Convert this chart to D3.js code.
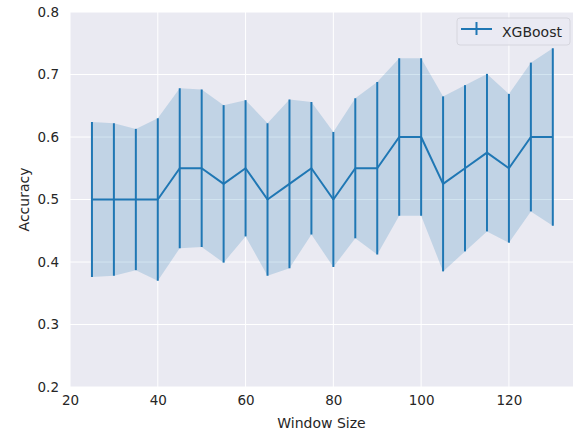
<!DOCTYPE html>
<html>
<head>
<meta charset="utf-8">
<script src="https://cdn.jsdelivr.net/npm/d3@7"></script>
<style>
  body { margin: 0; background: #fff; }
  text { font-family: "DejaVu Sans", sans-serif; fill: #262626; }
</style>
</head>
<body>
<div id="chart"></div>
<script>
// data
const windowSizes = [25, 30, 35, 40, 45, 50, 55, 60, 65, 70, 75, 80, 85, 90, 95, 100, 105, 110, 115, 120, 125, 130];
const accuracy = [0.5, 0.5, 0.5, 0.5, 0.55, 0.55, 0.525, 0.55, 0.5, 0.525, 0.55, 0.5, 0.55, 0.55, 0.6, 0.6, 0.525, 0.55, 0.575, 0.55, 0.6, 0.6];
const accuracyStd = [0.124, 0.122, 0.113, 0.130, 0.128, 0.126, 0.126, 0.109, 0.122, 0.135, 0.106, 0.108, 0.112, 0.138, 0.126, 0.126, 0.140, 0.133, 0.126, 0.119, 0.119, 0.142];
const xTicks = [20, 40, 60, 80, 100, 120];
const yTicks = [0.2, 0.3, 0.4, 0.5, 0.6, 0.7, 0.8];
const seriesName = "XGBoost";

const W = 573, H = 432;
var margin = { top: 12, right: 0, bottom: 45, left: 70 },
    width = W - margin.left - margin.right,
    height = H - margin.top - margin.bottom;

const blue = "#1f77b4";

var svg = d3.select("#chart").append("svg")
    .attr("width", W)
    .attr("height", H);

var g = svg.append("g")
    .attr("transform", "translate(" + margin.left + "," + margin.top + ")");

var data = windowSizes.map((w, i) => ({ w: w, m: accuracy[i], s: accuracyStd[i] }));

var x = d3.scaleLinear().domain([20, 134.6]).range([0, width]);
var y = d3.scaleLinear().domain([0.2, 0.8]).range([height, 0]);

// background
g.append("rect")
    .attr("width", width)
    .attr("height", height)
    .attr("fill", "#eaeaf2");

// grid
g.selectAll(".xgrid").data(xTicks).enter().append("line")
    .attr("x1", d => x(d)).attr("x2", d => x(d))
    .attr("y1", 0).attr("y2", height)
    .attr("stroke", "#fff").attr("stroke-width", 1);
g.selectAll(".ygrid").data(yTicks).enter().append("line")
    .attr("y1", d => y(d)).attr("y2", d => y(d))
    .attr("x1", 0).attr("x2", width)
    .attr("stroke", "#fff").attr("stroke-width", 1);

// axes (no lines, just labels)
var xAxis = g.append("g")
    .attr("transform", "translate(0," + height + ")")
    .call(d3.axisBottom(x).tickValues(xTicks).tickSize(0).tickPadding(8).tickFormat(d3.format("d")));
var yAxis = g.append("g")
    .call(d3.axisLeft(y).tickValues(yTicks).tickSize(0).tickPadding(11).tickFormat(d3.format(".1f")));
[xAxis, yAxis].forEach(a => {
    a.select(".domain").remove();
    a.selectAll("text").style("font-size", "13.5px").attr("fill", "#262626")
        .style("font-family", "DejaVu Sans, sans-serif");
});

// shaded band
g.append("path")
    .datum(data)
    .attr("d", d3.area().x(d => x(d.w)).y0(d => y(d.m - d.s)).y1(d => y(d.m + d.s)))
    .attr("fill", blue)
    .attr("fill-opacity", 0.2);

// error bars
g.selectAll(".err").data(data).enter().append("line")
    .attr("x1", d => x(d.w)).attr("x2", d => x(d.w))
    .attr("y1", d => y(d.m - d.s)).attr("y2", d => y(d.m + d.s))
    .attr("stroke", blue).attr("stroke-width", 2);

// mean line
g.append("path")
    .datum(data)
    .attr("d", d3.line().x(d => x(d.w)).y(d => y(d.m)))
    .attr("fill", "none")
    .attr("stroke", blue)
    .attr("stroke-width", 2)
    .attr("stroke-linejoin", "round");

// axis titles
svg.append("text")
    .attr("x", margin.left + width / 2)
    .attr("y", 428)
    .attr("text-anchor", "middle")
    .style("font-size", "14px")
    .text("Window Size");
svg.append("text")
    .attr("transform", "translate(29," + (margin.top + y(0.5)) + ") rotate(-90)")
    .attr("text-anchor", "middle")
    .style("font-size", "14px")
    .text("Accuracy");

// legend
var lg = svg.append("g").attr("transform", "translate(457,18)");
lg.append("rect")
    .attr("width", 113).attr("height", 27).attr("rx", 3)
    .attr("fill", "#eaeaf2").attr("fill-opacity", 0.8)
    .attr("stroke", "#d6d6de").attr("stroke-width", 1);
lg.append("line").attr("x1", 4).attr("x2", 35).attr("y1", 11).attr("y2", 11)
    .attr("stroke", blue).attr("stroke-width", 2);
lg.append("line").attr("x1", 19.5).attr("x2", 19.5).attr("y1", 4).attr("y2", 17)
    .attr("stroke", blue).attr("stroke-width", 2);
lg.append("text").attr("x", 45).attr("y", 18.5)
    .style("font-size", "14px")
    .text(seriesName);
</script>
</body>
</html>
